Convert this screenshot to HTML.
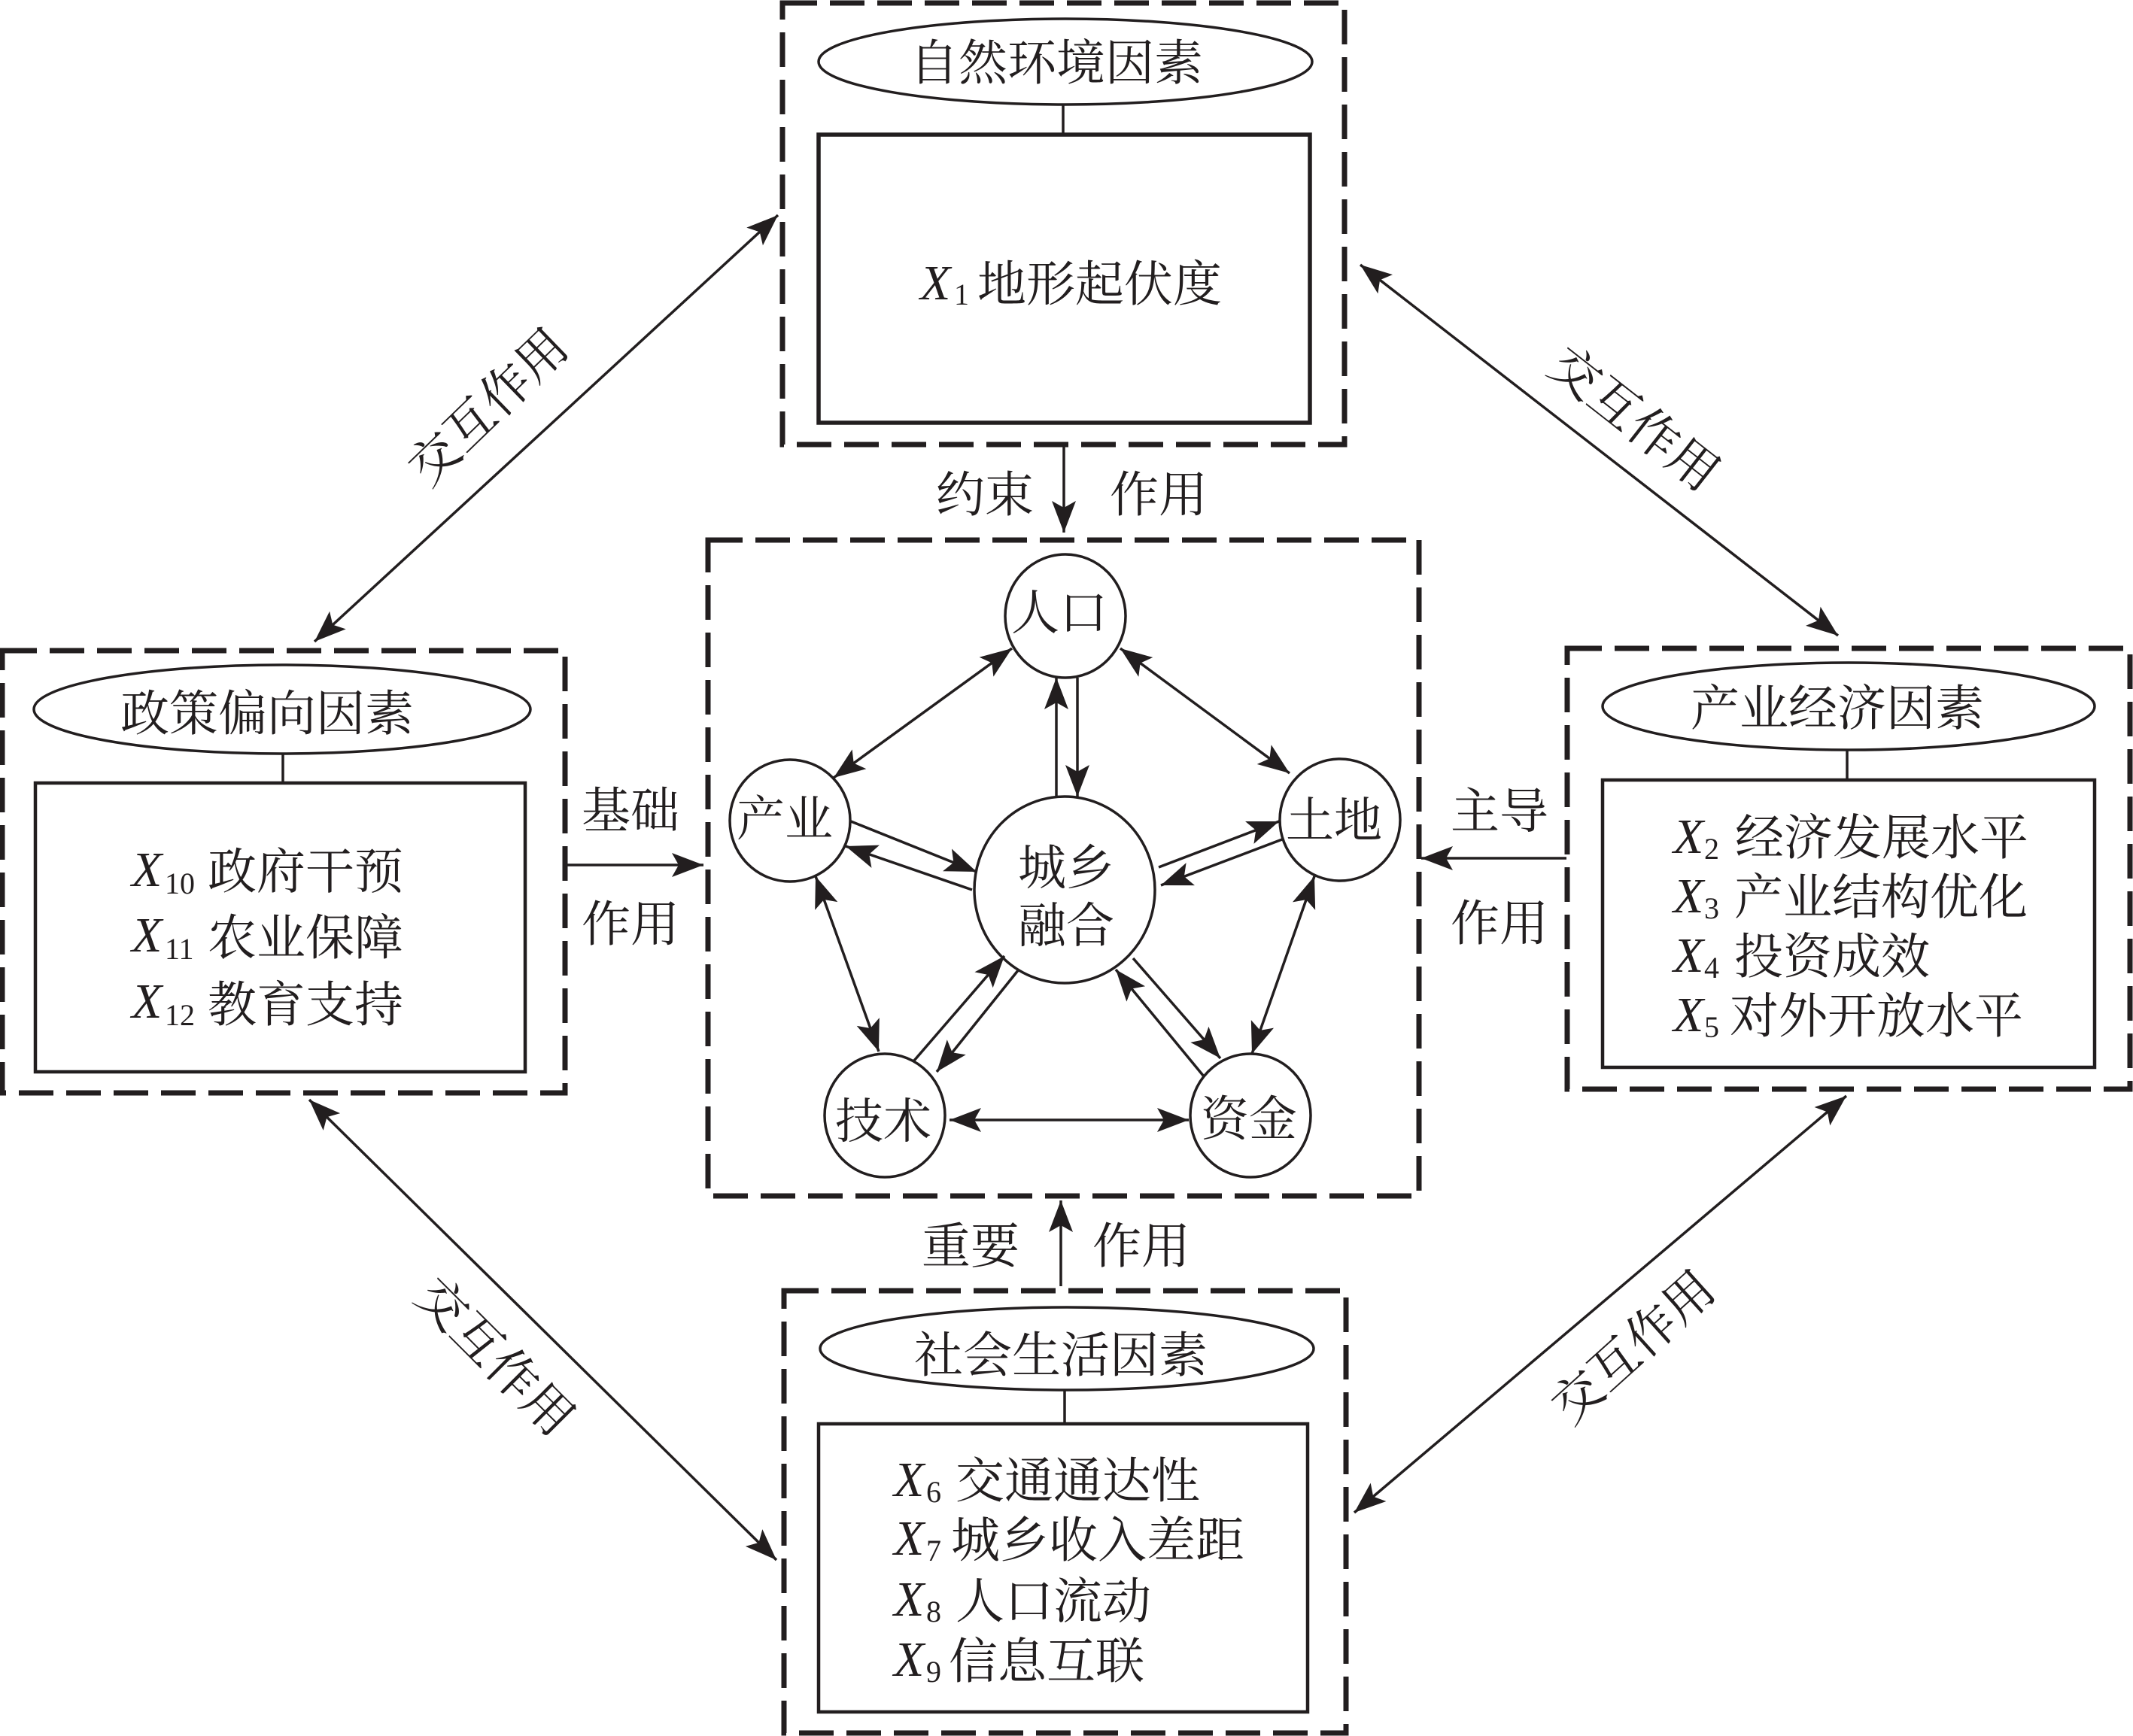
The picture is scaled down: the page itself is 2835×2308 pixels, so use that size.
<!DOCTYPE html>
<html>
<head>
<meta charset="utf-8">
<style>
html,body{margin:0;padding:0;background:#fff;}
svg{display:block;}
.cn{font-family:"Liberation Serif","Noto Serif CJK SC","Noto Sans CJK SC",serif;font-size:65px;fill:#221e1f;}
.xi{font-family:"Liberation Serif",serif;font-style:italic;font-size:66px;fill:#221e1f;}
.sub{font-family:"Liberation Serif",serif;font-size:40px;fill:#221e1f;}
.dash{fill:none;stroke:#221e1f;stroke-width:7;stroke-dasharray:46 17;}
.solid{fill:none;stroke:#221e1f;stroke-width:4.5;}
.ln{fill:none;stroke:#221e1f;stroke-width:3.5;}
.ar{stroke:#221e1f;stroke-width:3.5;fill:none;marker-end:url(#ah);}
.ar2{stroke:#221e1f;stroke-width:3.5;fill:none;marker-end:url(#ah);marker-start:url(#ahs);}
</style>
</head>
<body>
<svg width="2835" height="2308" viewBox="0 0 2835 2308" xmlns="http://www.w3.org/2000/svg">
<defs>
<marker id="ah" markerUnits="userSpaceOnUse" markerWidth="60" markerHeight="60" viewBox="-50 -25 60 50" refX="0" refY="0" orient="auto">
<path d="M0,0 L-42,-16 L-33,0 L-42,16 Z" fill="#221e1f"/>
</marker>
<marker id="ahs" markerUnits="userSpaceOnUse" markerWidth="60" markerHeight="60" viewBox="-50 -25 60 50" refX="0" refY="0" orient="auto-start-reverse">
<path d="M0,0 L-42,-16 L-33,0 L-42,16 Z" fill="#221e1f"/>
</marker>
</defs>

<!-- ===== Top box: 自然环境因素 ===== -->
<rect class="dash" x="1040" y="4" width="747" height="587"/>
<ellipse class="ln" cx="1416" cy="82" rx="328" ry="57"/>
<text class="cn" x="1404" y="106" text-anchor="middle">自然环境因素</text>
<line class="ln" x1="1413" y1="139" x2="1413" y2="179"/>
<rect x="1088" y="179" width="653" height="383" fill="none" stroke="#221e1f" stroke-width="5.5"/>
<text class="xi" x="1223" y="398">X</text>
<text class="sub" x="1268" y="405">1</text>
<text class="cn" x="1299" y="400">地形起伏度</text>

<!-- 约束 作用 -->
<text class="cn" x="1309" y="680" text-anchor="middle">约束</text>
<text class="cn" x="1540" y="680" text-anchor="middle">作用</text>
<line class="ar" x1="1414" y1="594" x2="1414" y2="708"/>

<!-- ===== Left box: 政策偏向因素 ===== -->
<rect class="dash" x="3" y="865" width="748" height="588"/>
<ellipse class="ln" cx="375" cy="943" rx="330" ry="59"/>
<text class="cn" x="355" y="971" text-anchor="middle">政策偏向因素</text>
<line class="ln" x1="376" y1="1002" x2="376" y2="1041"/>
<rect class="solid" x="47" y="1041" width="651" height="384"/>
<text class="xi" x="175" y="1178">X</text><text class="sub" x="219" y="1188">10</text><text class="cn" x="276" y="1181">政府干预</text>
<text class="xi" x="175" y="1265">X</text><text class="sub" x="219" y="1275">11</text><text class="cn" x="276" y="1269">农业保障</text>
<text class="xi" x="175" y="1353">X</text><text class="sub" x="219" y="1363">12</text><text class="cn" x="276" y="1358">教育支持</text>

<!-- 基础 作用 -->
<text class="cn" x="838" y="1100" text-anchor="middle">基础</text>
<text class="cn" x="838" y="1251" text-anchor="middle">作用</text>
<line class="ar" x1="753" y1="1150" x2="935" y2="1150"/>

<!-- ===== Right box: 产业经济因素 ===== -->
<rect class="dash" x="2083" y="862" width="748" height="586"/>
<ellipse class="ln" cx="2457" cy="939" rx="327" ry="58"/>
<text class="cn" x="2442" y="964" text-anchor="middle">产业经济因素</text>
<line class="ln" x1="2455" y1="997" x2="2455" y2="1037"/>
<rect class="solid" x="2130" y="1037" width="654" height="382"/>
<text class="xi" x="2224" y="1134">X</text><text class="sub" x="2265" y="1142">2</text><text class="cn" x="2306" y="1136">经济发展水平</text>
<text class="xi" x="2224" y="1213">X</text><text class="sub" x="2265" y="1221">3</text><text class="cn" x="2305" y="1215">产业结构优化</text>
<text class="xi" x="2224" y="1292">X</text><text class="sub" x="2265" y="1300">4</text><text class="cn" x="2305" y="1294">投资成效</text>
<text class="xi" x="2224" y="1371">X</text><text class="sub" x="2265" y="1379">5</text><text class="cn" x="2299" y="1373">对外开放水平</text>

<!-- 主导 作用 -->
<text class="cn" x="1993" y="1101" text-anchor="middle">主导</text>
<text class="cn" x="1993" y="1250" text-anchor="middle">作用</text>
<line class="ar" x1="2082" y1="1141" x2="1889" y2="1141"/>

<!-- ===== Bottom box: 社会生活因素 ===== -->
<rect class="dash" x="1042" y="1716" width="747" height="588"/>
<ellipse class="ln" cx="1418" cy="1793" rx="328" ry="55"/>
<text class="cn" x="1410" y="1824" text-anchor="middle">社会生活因素</text>
<line class="ln" x1="1415" y1="1848" x2="1415" y2="1893"/>
<rect class="solid" x="1088" y="1893" width="650" height="383"/>
<text class="xi" x="1188" y="1989">X</text><text class="sub" x="1231" y="1997">6</text><text class="cn" x="1270" y="1991">交通通达性</text>
<text class="xi" x="1188" y="2067">X</text><text class="sub" x="1231" y="2075">7</text><text class="cn" x="1264" y="2070">城乡收入差距</text>
<text class="xi" x="1188" y="2148">X</text><text class="sub" x="1231" y="2156">8</text><text class="cn" x="1270" y="2151">人口流动</text>
<text class="xi" x="1188" y="2228">X</text><text class="sub" x="1231" y="2236">9</text><text class="cn" x="1261" y="2231">信息互联</text>

<!-- 重要 作用 -->
<text class="cn" x="1290" y="1679" text-anchor="middle">重要</text>
<text class="cn" x="1517" y="1679" text-anchor="middle">作用</text>
<line class="ar" x1="1410" y1="1710" x2="1410" y2="1596"/>

<!-- ===== Center box ===== -->
<rect class="dash" x="941" y="718" width="945" height="872"/>

<ellipse class="ln" cx="1416" cy="819" rx="80" ry="82"/>
<text class="cn" x="1408" y="837" text-anchor="middle" style="font-size:64px">人口</text>
<ellipse class="ln" cx="1050" cy="1091" rx="80" ry="81"/>
<text class="cn" x="1043" y="1111" text-anchor="middle" style="font-size:64px">产业</text>
<ellipse class="ln" cx="1781" cy="1090" rx="80" ry="81"/>
<text class="cn" x="1773" y="1113" text-anchor="middle" style="font-size:64px">土地</text>
<ellipse class="ln" cx="1415" cy="1183" rx="120" ry="124"/>
<text class="cn" x="1417" y="1176" text-anchor="middle" style="font-size:64px">城乡</text>
<text class="cn" x="1417" y="1253" text-anchor="middle" style="font-size:64px">融合</text>
<ellipse class="ln" cx="1176" cy="1483" rx="80" ry="82"/>
<text class="cn" x="1174" y="1513" text-anchor="middle" style="font-size:64px">技术</text>
<ellipse class="ln" cx="1662" cy="1483" rx="80" ry="82"/>
<text class="cn" x="1660" y="1510" text-anchor="middle" style="font-size:64px">资金</text>

<!-- pentagon double arrows -->
<line class="ar2" x1="1345" y1="862" x2="1108" y2="1034"/>
<line class="ar2" x1="1489" y1="862" x2="1714" y2="1028"/>
<line class="ar2" x1="1084" y1="1165" x2="1168" y2="1398"/>
<line class="ar2" x1="1747" y1="1165" x2="1664" y2="1401"/>
<line class="ar2" x1="1262" y1="1489" x2="1580" y2="1489"/>

<!-- center pairs -->
<line class="ar" x1="1404" y1="1059" x2="1404" y2="901"/>
<line class="ar" x1="1432" y1="901" x2="1432" y2="1059"/>
<line class="ar" x1="1131" y1="1092" x2="1298" y2="1159"/>
<line class="ar" x1="1292" y1="1183" x2="1124" y2="1125"/>
<line class="ar" x1="1540" y1="1153" x2="1700" y2="1092"/>
<line class="ar" x1="1704" y1="1116" x2="1543" y2="1177"/>
<line class="ar" x1="1215" y1="1410" x2="1335" y2="1271"/>
<line class="ar" x1="1354" y1="1289" x2="1245" y2="1425"/>
<line class="ar" x1="1506" y1="1274" x2="1622" y2="1407"/>
<line class="ar" x1="1600" y1="1431" x2="1483" y2="1289"/>

<!-- ===== Diagonal 交互作用 arrows ===== -->
<line class="ar2" x1="418" y1="853" x2="1034" y2="286"/>
<text class="cn" x="0" y="0" text-anchor="middle" dy="24" style="font-size:66px" transform="translate(648,540) rotate(-44)">交互作用</text>

<line class="ar2" x1="1808" y1="352" x2="2443" y2="845"/>
<text class="cn" x="0" y="0" text-anchor="middle" dy="24" style="font-size:66px" transform="translate(2173,556) rotate(38)">交互作用</text>

<line class="ar2" x1="411" y1="1462" x2="1032" y2="2074"/>
<text class="cn" x="0" y="0" text-anchor="middle" dy="24" style="font-size:66px" transform="translate(659,1803) rotate(45)">交互作用</text>

<line class="ar2" x1="2454" y1="1457" x2="1800" y2="2011"/>
<text class="cn" x="0" y="0" text-anchor="middle" dy="24" style="font-size:66px" transform="translate(2170,1790) rotate(-42)">交互作用</text>
</svg>
</body>
</html>
